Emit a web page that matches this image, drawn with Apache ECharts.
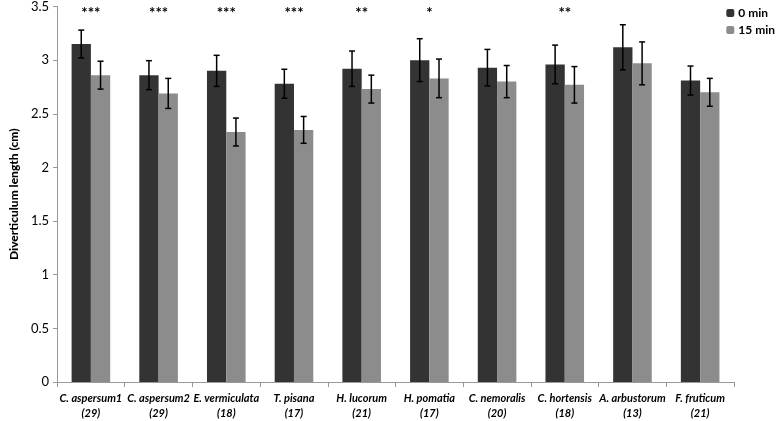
<!DOCTYPE html>
<html><head><meta charset="utf-8">
<script src="https://cdn.jsdelivr.net/npm/echarts@6/dist/echarts.min.js"></script>
<style>html,body{margin:0;padding:0;background:#fff}#c{width:778px;height:421px}</style>
</head><body><div id="c"></div>
<script>
const categories = ['C. aspersum1\n(29)','C. aspersum2\n(29)','E. vermiculata\n(18)','T. pisana\n(17)','H. lucorum\n(21)','H. pomatia\n(17)','C. nemoralis\n(20)','C. hortensis\n(18)','A. arbustorum\n(13)','F. fruticum\n(21)'];
const min0 = [3.15, 2.86, 2.90, 2.78, 2.92, 3.00, 2.93, 2.96, 3.12, 2.81];
const err0 = [0.13, 0.135, 0.145, 0.135, 0.165, 0.20, 0.17, 0.18, 0.21, 0.135];
const min15 = [2.86, 2.69, 2.33, 2.35, 2.73, 2.83, 2.80, 2.77, 2.97, 2.70];
const err15 = [0.13, 0.14, 0.13, 0.125, 0.13, 0.18, 0.15, 0.17, 0.20, 0.13];
const stars = ['***','***','***','***','**','*','','**','',''];
const yTicks = [0, 0.5, 1, 1.5, 2, 2.5, 3, 3.5];

const FONT = 'Lato, "Open Sans", sans-serif';
const DARK = '#333333', LIGHT = '#8c8c8c';

function errSeries(vals, errs, idx) {
  return {
    type: 'custom', name: 'err' + idx, silent: true, z: 5,
    data: vals.map((v, i) => [i, v - errs[i], v + errs[i]]),
    renderItem: function (params, api) {
      const lo = api.coord([api.value(0), api.value(1)]);
      const hi = api.coord([api.value(0), api.value(2)]);
      const bw = api.size([1, 0])[0];
      const barW = bw * 0.57 / 2;
      const x = lo[0] + (idx === 0 ? -barW / 2 : barW / 2);
      const cap = 3;
      const st = { stroke: '#000', lineWidth: 1.5 };
      return { type: 'group', children: [
        { type: 'line', shape: { x1: x, y1: lo[1], x2: x, y2: hi[1] }, style: st },
        { type: 'line', shape: { x1: x - cap, y1: lo[1], x2: x + cap, y2: lo[1] }, style: st },
        { type: 'line', shape: { x1: x - cap, y1: hi[1], x2: x + cap, y2: hi[1] }, style: st }
      ]};
    }
  };
}

const chart = echarts.init(document.getElementById('c'));
chart.setOption({
  animation: false,
  grid: { left: 44, right: 44, top: 5, bottom: 37 },
  legend: {
    data: ['0 min', '15 min'], orient: 'vertical', right: -2, top: 2,
    itemWidth: 8, itemHeight: 8, itemGap: 5,
    textStyle: { fontFamily: FONT, fontWeight: 'bold', fontSize: 12, color: '#000', padding: [0,0,0,-1] }
  },
  xAxis: {
    type: 'category', data: categories,
    axisLine: { lineStyle: { color: '#999' } },
    axisTick: { show: true, length: 5, lineStyle: { color: '#999' } },
    axisLabel: { interval: 0, fontFamily: FONT, fontStyle: 'italic', fontWeight: 'bold', fontSize: 11, color: '#000', lineHeight: 15, margin: 9 }
  },
  yAxis: {
    type: 'value', min: 0, max: 3.5, interval: 0.5,
    name: 'Diverticulum length (cm)', nameLocation: 'middle', nameGap: 31,
    nameTextStyle: { fontFamily: FONT, fontWeight: 900, fontSize: 12, color: '#000' },
    axisLine: { show: true, lineStyle: { color: '#999' } },
    axisTick: { show: true, length: 4, lineStyle: { color: '#999' } },
    splitLine: { show: false },
    axisLabel: { fontFamily: FONT, fontSize: 13, color: '#000', margin: 8,
      formatter: v => yTicks.includes(v) ? String(v) : '' }
  },
  series: [
    { name: '0 min', type: 'bar', data: min0, barGap: '0%', barCategoryGap: '43%', itemStyle: { color: DARK } },
    { name: '15 min', type: 'bar', data: min15, itemStyle: { color: LIGHT } },
    errSeries(min0, err0, 0),
    errSeries(min15, err15, 1),
    {
      type: 'custom', name: 'stars', silent: true,
      data: stars.map((s, i) => [i, 3.5, s]),
      renderItem: function (params, api) {
        const p = api.coord([api.value(0), api.value(1)]);
        return { type: 'text', x: p[0], y: p[1] - 1,
          style: { text: stars[params.dataIndex], textAlign: 'center', textVerticalAlign: 'top', font: 'bold 15px ' + FONT, fill: '#000' } };
      }
    }
  ]
});
</script></body></html>
